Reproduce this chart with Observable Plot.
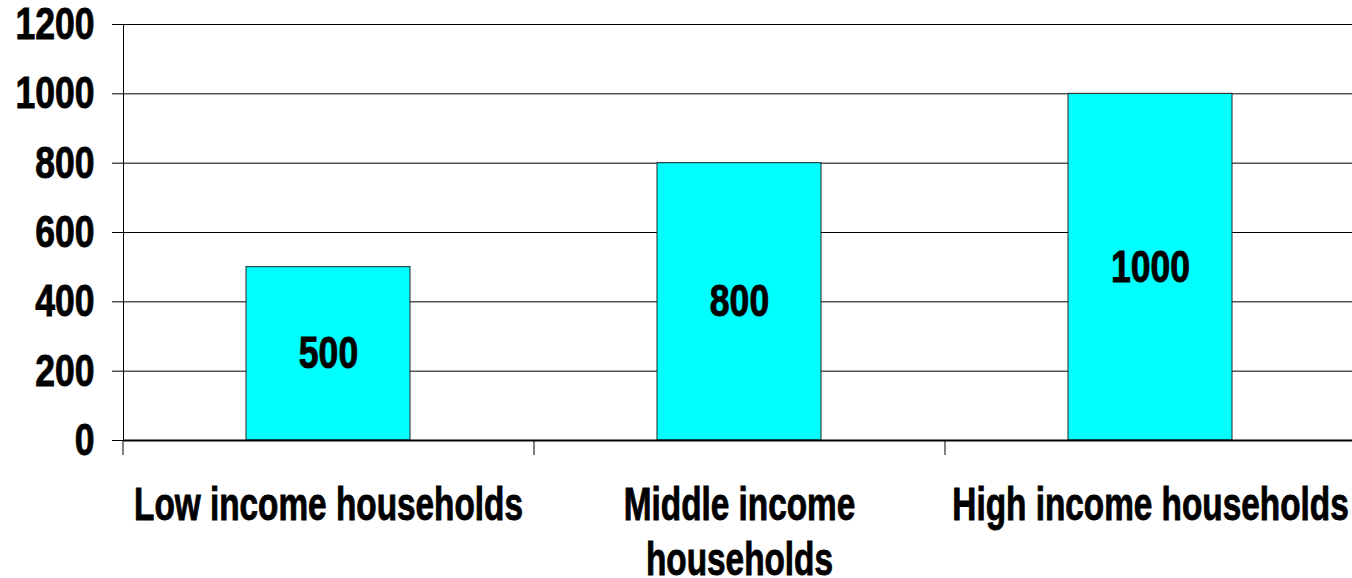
<!DOCTYPE html>
<html><head><meta charset="utf-8">
<script src="https://cdn.jsdelivr.net/npm/d3@7"></script>
<script src="https://cdn.jsdelivr.net/npm/@observablehq/plot@0.6"></script>
<style>
body{margin:0;background:#fff}
g[aria-label$="tick label"] text, g[aria-label="text"] text {stroke:#000; stroke-width:0.9px; paint-order:stroke}
</style>
</head><body><div id="chart"></div>
<script>
const categories = ["Low income households", "Middle income households", "High income households"];
const values = [500, 800, 1000];
const tickLabels = ["Low income households", "Middle income\nhouseholds", "High income households"];
const yTicks = [0, 200, 400, 600, 800, 1000, 1200];

const data = categories.map((c, i) => ({category: c, value: values[i]}));
const W = 1352, H = 578;
const xRange = [123, 1356];
const step = (xRange[1] - xRange[0]) / categories.length;
const font = "'Liberation Sans', Arial, sans-serif";

const plot = Plot.plot({
  width: W, height: H,
  marginTop: 24, marginBottom: 138, marginLeft: 123, marginRight: 0,
  style: {fontFamily: font, fontWeight: "bold", color: "#000", background: "#fff", overflow: "visible"},
  x: {domain: categories, range: xRange, paddingInner: 0.6, paddingOuter: 0.3, label: null},
  y: {domain: [0, 1200], label: null},
  marks: [
    Plot.gridY(yTicks, {stroke: "#000", strokeOpacity: 1}),
    Plot.barY(data, {x: "category", y: "value", fill: "#00FFFF", stroke: "#222", strokeWidth: 1}),
    Plot.ruleY([0], {stroke: "#000", strokeWidth: 2}),
    Plot.ruleX(categories, {x: d => d, dx: -step / 2, y1: 0, y2: 0, insetBottom: -15, stroke: "#000"}),
    Plot.frame({anchor: "left", stroke: "#000"}),
    Plot.axisY(yTicks, {tickSize: 11, tickPadding: 18, fontSize: 45, fontWeight: "bold", tickFormat: d => String(d), stroke: "#000", label: null}),
    Plot.axisX({tickSize: 0, tickPadding: 40, fontSize: 46, lineHeight: 1.2, fontWeight: "bold", tickFormat: d => tickLabels[categories.indexOf(d)], label: null}),
    Plot.text(data, {x: "category", y: d => d.value / 2, text: d => String(d.value), fontSize: 45, fontWeight: "bold", fill: "#000"})
  ]
});
document.getElementById("chart").appendChild(plot);
function squeeze(sel, k) {
  plot.querySelectorAll(sel).forEach(t => {
    const tr = t.getAttribute("transform") || "";
    t.setAttribute("transform", tr + ` scale(${k},1)`);
  });
}
squeeze('g[aria-label="x-axis tick label"] text', 0.725);
squeeze('g[aria-label="y-axis tick label"] text', 0.79);
squeeze('g[aria-label="text"] text', 0.79);
</script>
</body></html>
